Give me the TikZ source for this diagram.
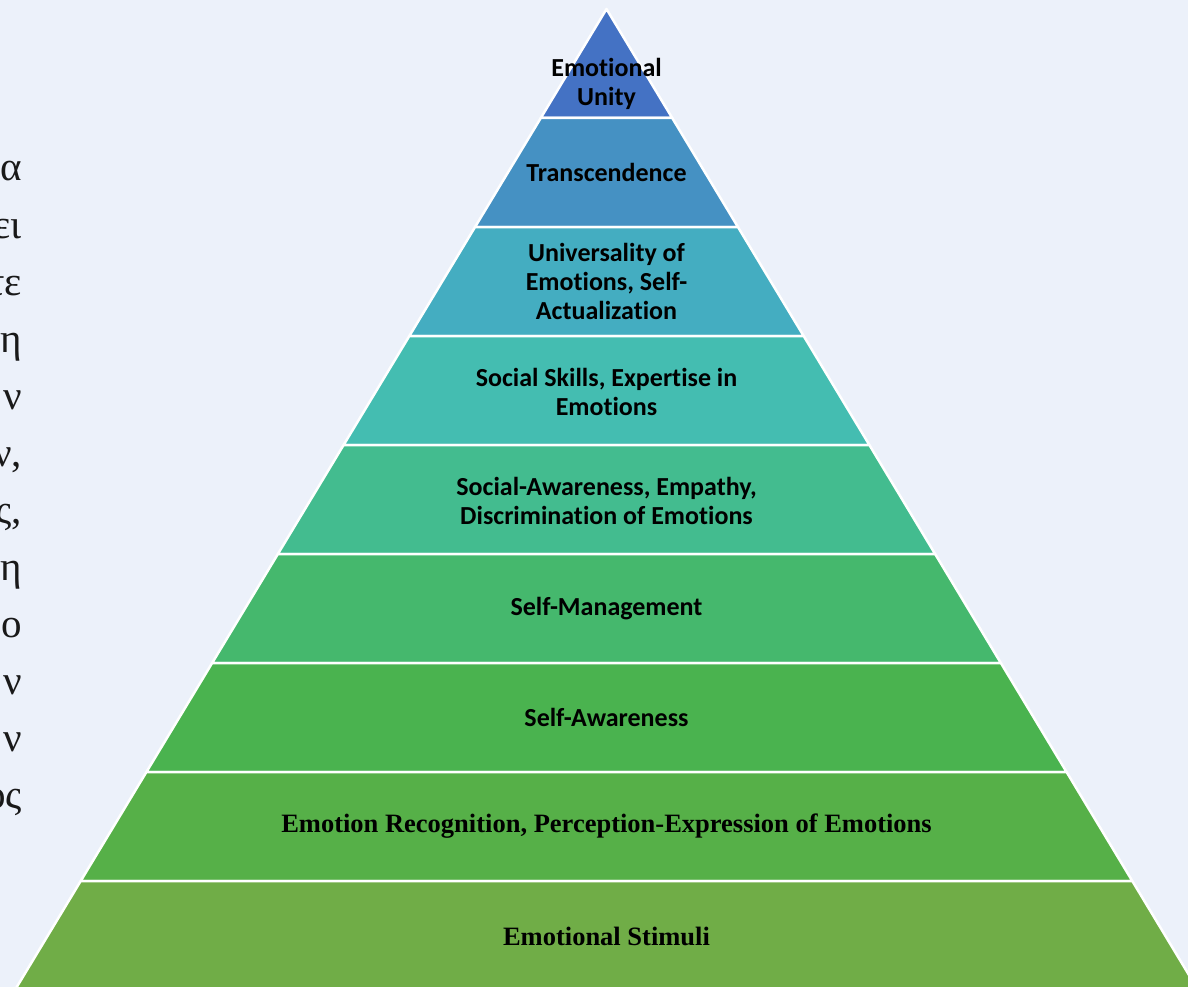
\documentclass[tikz,border=0pt]{standalone}
\usepackage{fontspec}
\setmainfont{Liberation Serif}
\newfontfamily\carl[Ligatures=NoCommon]{Carlito}
\definecolor{bgc}{HTML}{ECF1FA}
\definecolor{c1}{HTML}{4472C4}
\definecolor{c2}{HTML}{4591C3}
\definecolor{c3}{HTML}{44ADC1}
\definecolor{c4}{HTML}{44BDB1}
\definecolor{c5}{HTML}{43BC8F}
\definecolor{c6}{HTML}{45B86D}
\definecolor{c7}{HTML}{4AB34F}
\definecolor{c8}{HTML}{56B048}
\definecolor{c9}{HTML}{70AD47}
\tikzset{
  layer/.style={draw=white, line width=2.5pt, line join=round},
  sanslbl/.style={font=\carl\bfseries\fontsize{26}{29}\selectfont, align=center, text=black, inner sep=0pt},
  seriflbl/.style={font=\bfseries\fontsize{26.5}{30}\selectfont, text=black, inner sep=0pt},
  greek/.style={font=\fontsize{41}{48}\selectfont, anchor=base east, inner sep=0pt, text=black!90}
}
\begin{document}
\begin{tikzpicture}[x=1pt,y=-1pt]
\fill[bgc] (0,0) rectangle (1188,987);
\useasboundingbox (0,0) rectangle (1188,987);
\clip (0,0) rectangle (1188,987);
% pyramid layers
\foreach \k/\col in {0/c1,1/c2,2/c3,3/c4,4/c5,5/c6,6/c7,7/c8,8/c9}{
  \pgfmathsetmacro\yt{9+109*\k}
  \pgfmathsetmacro\yb{\k==8 ? 1010 : 9+109*(\k+1)}
  \pgfmathsetmacro\wt{0.603*(\yt-9)}
  \pgfmathsetmacro\wb{0.603*(\yb-9)}
  \filldraw[layer, fill=\col] ({606.5-\wt},\yt) -- ({606.5+\wt},\yt) -- ({606.5+\wb},\yb) -- ({606.5-\wb},\yb) -- cycle;
}
% labels
\node[sanslbl] (t1) at (606.5,84) {Emotional\\Unity};
\node[sanslbl] (t2) at (606.5,172) {Transcendence};
\node[sanslbl] (t3) at (606.5,281.5) {Universality of\\Emotions, Self-\\Actualization};
\node[sanslbl] (t4) at (606.5,391.5) {Social Skills, Expertise in\\Emotions};
\node[sanslbl] (t5) at (606.5,501) {Social-Awareness, Empathy,\\Discrimination of Emotions};
\node[sanslbl] (t6) at (606.5,608.5) {Self-Management};
\node[sanslbl] (t7) at (606.5,717.5) {Self-Awareness};
\node[seriflbl] (t8) at (606.5,826.5) {Emotion Recognition, Perception-Expression of Emotions};
\node[seriflbl] (t9) at (606.5,936) {Emotional Stimuli};
% cut-off text on the left
\foreach \txt [count=\i from 0] in {α,ει,τε,η,ν,{ν,},{ς,},η,ο,ν,ν,ος}{
  \node[greek] (g\i) at (22,{181+57*\i}) {\txt};
}
\end{tikzpicture}
\end{document}
